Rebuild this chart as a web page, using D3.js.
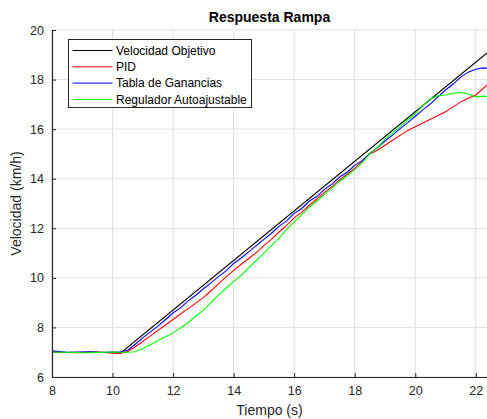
<!DOCTYPE html>
<html>
<head>
<meta charset="utf-8">
<script src="https://cdn.jsdelivr.net/npm/d3@7"></script>
<style>
  body { margin: 0; background: #fff; }
  svg { display: block; font-family: "Liberation Sans", Arial, sans-serif; }
</style>
</head>
<body>
<div id="chart"></div>
<script>
// data
var refTime = [8, 10.3, 22.4];
var refValue = [7, 7, 19.1];

var time = [8, 8.25, 8.5, 8.75, 9, 9.25, 9.5, 9.75, 10, 10.25, 10.5, 10.75, 11, 11.25, 11.5, 11.75,
  12, 12.25, 12.5, 12.75, 13, 13.25, 13.5, 13.75, 14, 14.25, 14.5, 14.75, 15, 15.25, 15.5, 15.75,
  16, 16.25, 16.5, 16.75, 17, 17.25, 17.5, 17.75, 18, 18.25, 18.5, 18.75, 19, 19.25, 19.5, 19.75,
  20, 20.25, 20.5, 20.75, 21, 21.25, 21.5, 21.75, 22, 22.25, 22.4];

var pid = [7.02, 7.0, 6.99, 6.98, 6.99, 7.0, 7.01, 6.99, 6.96, 6.95, 7.03, 7.22, 7.43, 7.66, 7.88, 8.1,
  8.32, 8.55, 8.76, 8.98, 9.2, 9.48, 9.76, 10.04, 10.3, 10.55, 10.78, 11.02, 11.3, 11.55, 11.85, 12.12,
  12.42, 12.65, 12.93, 13.18, 13.45, 13.68, 13.95, 14.18, 14.42, 14.7, 15.0, 15.15, 15.35, 15.55, 15.75, 15.95,
  16.1, 16.25, 16.4, 16.55, 16.7, 16.9, 17.1, 17.25, 17.38, 17.65, 17.8];

var tabla = [7.06, 7.03, 6.99, 7.0, 7.01, 7.02, 7.0, 6.99, 7.0, 7.01, 7.08, 7.32, 7.58, 7.82, 8.05, 8.32,
  8.58, 8.8, 9.07, 9.3, 9.56, 9.8, 10.05, 10.28, 10.58, 10.8, 11.05, 11.3, 11.55, 11.8, 12.08, 12.3,
  12.6, 12.8, 13.1, 13.28, 13.57, 13.78, 14.07, 14.26, 14.54, 14.74, 15.02, 15.25, 15.52, 15.76, 16.02, 16.26,
  16.52, 16.78, 17.02, 17.3, 17.58, 17.82, 18.1, 18.3, 18.42, 18.47, 18.45];

var autoajuste = [7.0, 7.0, 7.0, 6.99, 6.98, 6.98, 6.99, 7.0, 7.0, 7.0, 7.0, 7.02, 7.15, 7.3, 7.47, 7.62,
  7.78, 7.98, 8.2, 8.45, 8.7, 9.0, 9.3, 9.58, 9.85, 10.1, 10.4, 10.7, 11.0, 11.3, 11.6, 11.95,
  12.27, 12.55, 12.85, 13.1, 13.38, 13.62, 13.9, 14.12, 14.38, 14.65, 15.0, 15.25, 15.6, 15.85, 16.1, 16.38,
  16.62, 16.95, 17.22, 17.35, 17.38, 17.45, 17.48, 17.42, 17.3, 17.33, 17.3];

var xTicks = [8, 10, 12, 14, 16, 18, 20, 22];
var yTicks = [6, 8, 10, 12, 14, 16, 18, 20];
var legendNames = ["Velocidad Objetivo", "PID", "Tabla de Ganancias", "Regulador Autoajustable"];

var width = 487, height = 419;
var margin = {top: 30, right: 0, bottom: 42, left: 52};
var axisColor = "#262626";

var svg = d3.select("#chart").append("svg")
  .attr("width", width)
  .attr("height", height);

var x = d3.scaleLinear().domain([8, 22.37]).range([margin.left, width - margin.right]);
var y = d3.scaleLinear().domain([6, 20]).range([height - margin.bottom, margin.top]);

// grid
svg.append("g").selectAll("line").data(xTicks).enter().append("line")
  .attr("x1", function(d) { return x(d); })
  .attr("x2", function(d) { return x(d); })
  .attr("y1", y(6)).attr("y2", y(20))
  .attr("stroke", "#dfdfdf").attr("stroke-width", 1);
svg.append("g").selectAll("line").data(yTicks).enter().append("line")
  .attr("x1", x(8)).attr("x2", width)
  .attr("y1", function(d) { return y(d); })
  .attr("y2", function(d) { return y(d); })
  .attr("stroke", "#dfdfdf").attr("stroke-width", 1);

svg.append("clipPath").attr("id", "clip")
  .append("rect")
  .attr("x", x(8)).attr("y", y(20))
  .attr("width", width - x(8)).attr("height", y(6) - y(20));

var line = d3.line()
  .x(function(d) { return x(d[0]); })
  .y(function(d) { return y(d[1]); });

var series = [
  {pts: d3.zip(refTime, refValue), color: "#000000"},
  {pts: d3.zip(time, pid), color: "#ff0000"},
  {pts: d3.zip(time, tabla), color: "#0000ff"},
  {pts: d3.zip(time, autoajuste), color: "#00ff00"}
];

svg.append("g").attr("clip-path", "url(#clip)")
  .selectAll("path").data(series).enter().append("path")
  .attr("d", function(s) { return line(s.pts); })
  .attr("fill", "none")
  .attr("stroke", function(s) { return s.color; })
  .attr("stroke-width", 1.1);

// axes, ticks inside like matlab
var xAxis = svg.append("g")
  .attr("transform", "translate(0," + y(6) + ")")
  .call(d3.axisBottom(x).tickValues(xTicks).tickSizeInner(-4).tickSizeOuter(0).tickPadding(9));
var yAxis = svg.append("g")
  .attr("transform", "translate(" + x(8) + ",0)")
  .call(d3.axisLeft(y).tickValues(yTicks).tickSizeInner(-4).tickSizeOuter(0).tickPadding(8));

[xAxis, yAxis].forEach(function(a) {
  a.select(".domain").attr("stroke", axisColor).attr("stroke-width", 1.2);
  a.selectAll(".tick line").attr("stroke", axisColor);
  a.selectAll(".tick text")
    .attr("fill", axisColor)
    .style("font-size", "12.5px")
    .style("font-family", "Liberation Sans, Arial, sans-serif");
});

svg.append("text")
  .attr("x", (x(8) + width) / 2).attr("y", 22)
  .attr("text-anchor", "middle")
  .style("font-size", "14px").style("font-weight", "bold")
  .attr("fill", "#000")
  .text("Respuesta Rampa");

svg.append("text")
  .attr("x", (x(8) + width) / 2).attr("y", 415)
  .attr("text-anchor", "middle")
  .style("font-size", "14px")
  .attr("fill", axisColor)
  .text("Tiempo (s)");

svg.append("text")
  .attr("transform", "translate(21," + ((y(6) + y(20)) / 2) + ") rotate(-90)")
  .attr("text-anchor", "middle")
  .style("font-size", "14px")
  .attr("fill", axisColor)
  .text("Velocidad (km/h)");

// legend
var legend = svg.append("g").attr("transform", "translate(68.5,39.5)");
legend.append("rect")
  .attr("width", 183).attr("height", 68)
  .attr("fill", "#fff")
  .attr("stroke", axisColor).attr("stroke-width", 1);

var rows = legend.selectAll("g.row").data(legendNames).enter().append("g")
  .attr("class", "row")
  .attr("transform", function(d, i) { return "translate(0," + (11 + i * 16.3) + ")"; });
rows.append("line")
  .attr("x1", 4).attr("x2", 44)
  .attr("stroke", function(d, i) { return series[i].color; })
  .attr("stroke-width", 1);
rows.append("text")
  .attr("x", 47.5).attr("dy", "0.35em")
  .style("font-size", "12px")
  .attr("fill", "#000")
  .text(function(d) { return d; });
</script>
</body>
</html>
